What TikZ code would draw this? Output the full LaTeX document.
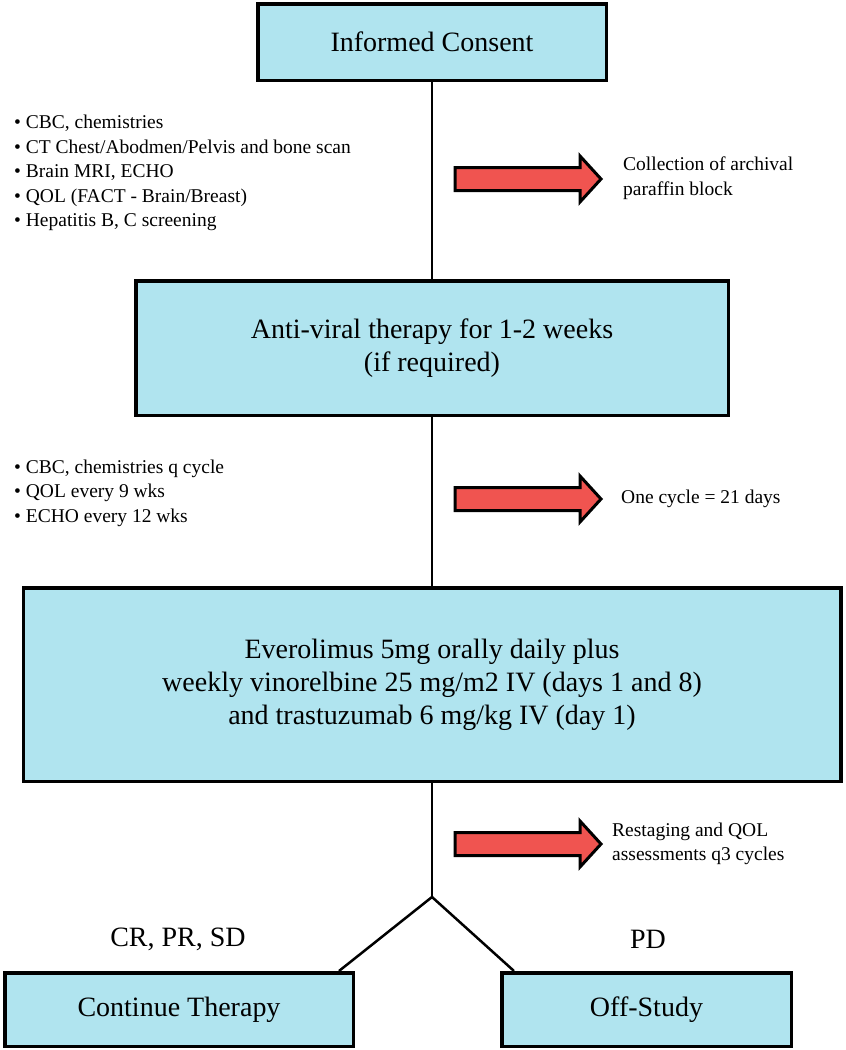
\documentclass[tikz,border=0pt]{standalone}
\usepackage{fontspec}
\setmainfont{Liberation Serif}
\newfontfamily\timesfont{Liberation Serif}
\usepackage{tikz}
\usetikzlibrary{backgrounds}
\definecolor{boxblue}{RGB}{176,228,239}
\definecolor{arrowred}{RGB}{240,84,80}
\tikzstyle{box}=[rectangle,fill=boxblue,draw=black,line width=3.5pt,inner sep=0pt,align=center,anchor=center,font=\timesfont\fontsize{28}{33}\selectfont]
\tikzstyle{annot}=[align=left,inner sep=0pt,anchor=west,font=\timesfont\fontsize{19.5}{24.5}\selectfont]
\tikzstyle{branch}=[align=center,inner sep=0pt,font=\timesfont\fontsize{28}{33}\selectfont]
\tikzstyle{conn}=[line width=2.5pt]
\tikzstyle{redarrow}=[fill=arrowred,draw=black,line width=3pt,line join=miter]
\newcommand{\sidearrow}[1]
{
  \begin{scope}[shift={(528,#1)}]
    \draw[redarrow] (-73,-11.5) -- (52,-11.5) -- (52,-23) -- (73,0) -- (52,23) -- (52,11.5) -- (-73,11.5) -- cycle;
  \end{scope}
}

\begin{document}
\begin{tikzpicture}[x=1pt,y=-1pt]
	\useasboundingbox (0,0) rectangle (846,1050);

	\node[box, minimum width=348.5pt, minimum height=76.5pt](consent) at (432,42){Informed Consent};
	\node[box, minimum width=592.5pt, minimum height=134.5pt](antiviral) at (432,348){Anti-viral therapy for 1-2 weeks\\(if required)};
	\node[box, minimum width=817.5pt, minimum height=193.5pt](therapy) at (432,684.5){Everolimus 5mg orally daily plus\\weekly vinorelbine 25 mg/m2 IV (days 1 and 8)\\and trastuzumab 6 mg/kg IV (day 1)};
	\node[box, minimum width=348.5pt, minimum height=73.5pt](cont) at (179,1009.5){Continue Therapy};
	\node[box, minimum width=289.5pt, minimum height=73.5pt](offstudy) at (646.5,1009.5){Off-Study};
	\coordinate (split) at (432,897);

	\begin{scope}[on background layer]
	\draw[conn] (consent.south) -- (antiviral.north);
	\draw[conn] (antiviral.south) -- (therapy.north);
	\draw[conn] (therapy.south) -- (split);
	\draw[conn] (split) -- ([xshift=-16pt]cont.north east);
	\draw[conn] (split) -- ([xshift=14pt]offstudy.north west);
	\end{scope}

	\sidearrow{179}
	\sidearrow{499}
	\sidearrow{844}

	\node[annot](tests1) at (14,173){\textbullet{} CBC, chemistries\\\textbullet{} CT Chest/Abodmen/Pelvis and bone scan\\\textbullet{} Brain MRI, ECHO\\\textbullet{} QOL (FACT - Brain/Breast)\\\textbullet{} Hepatitis B, C screening};
	\node[annot](tests2) at (14,493){\textbullet{} CBC, chemistries q cycle\\\textbullet{} QOL every 9 wks\\\textbullet{} ECHO every 12 wks};

	\node[annot](archival) at (623,178){Collection of archival\\paraffin block};
	\node[annot](cycle) at (621,499){One cycle = 21 days};
	\node[annot](restaging) at (612,844){Restaging and QOL\\assessments q3 cycles};

	\node[branch](respond) at (178,939){CR, PR, SD};
	\node[branch](progress) at (648,939){PD};
\end{tikzpicture}
\end{document}
